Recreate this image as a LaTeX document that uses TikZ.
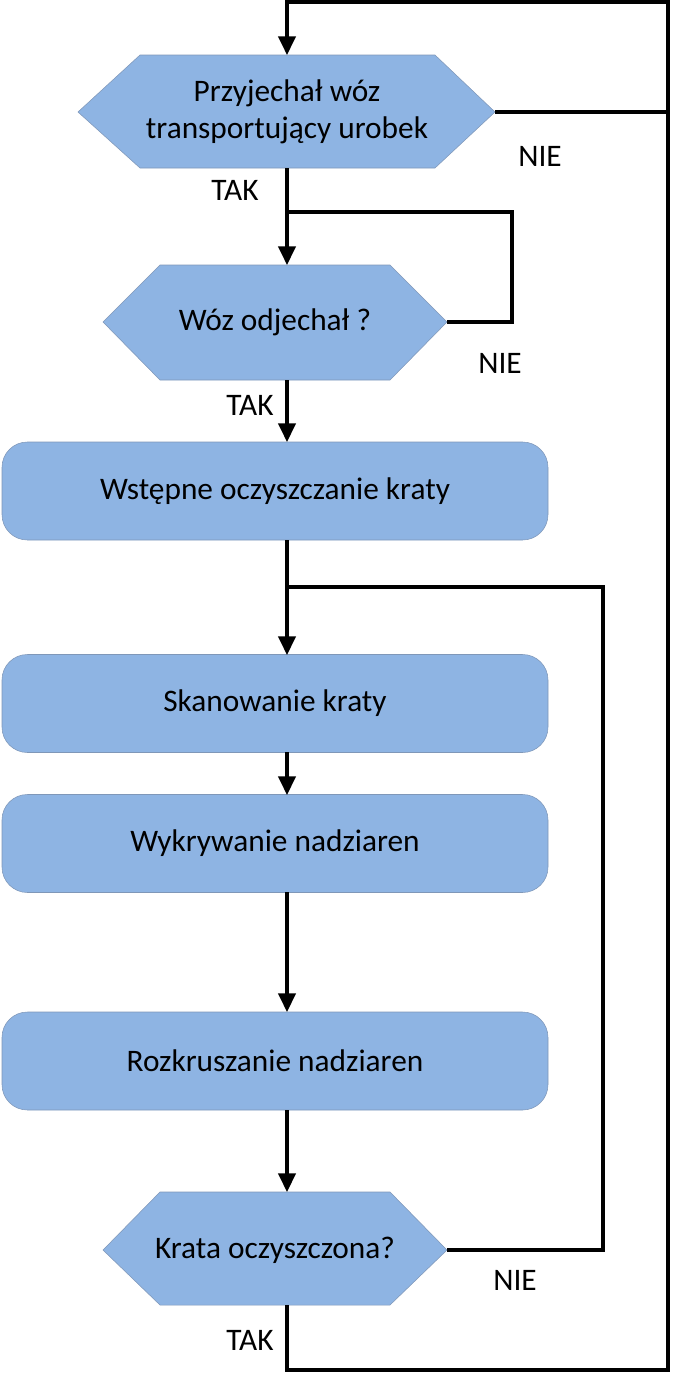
\documentclass[tikz,border=0pt]{standalone}
\usepackage{fontspec}
\setmainfont{Carlito}
\usetikzlibrary{arrows.meta,positioning}

\tikzset{
  box/.style={draw=boxline, fill=decfill, rounded corners=19pt,
    minimum width=409.5pt, minimum height=73.5pt, font=\fontsize{23.5}{28}\selectfont},
  hexfill/.style={draw=boxline, fill=decfill},
  lbl/.style={font=\fontsize{23.5}{28}\selectfont, align=center},
  flow/.style={line width=2.6pt, -{Triangle[length=14pt,width=13pt]}},
  flowline/.style={line width=2.6pt}
}
\definecolor{decfill}{HTML}{8EB4E3}
\definecolor{boxline}{HTML}{7F97B8}

\begin{document}
\begin{tikzpicture}[x=0.75pt, y=-0.75pt]
    \useasboundingbox (0,0) rectangle (675,1375);

    % decisions
    \filldraw[hexfill] (78,112) -- (140,55) -- (435,55) -- (495,112) -- (435,168) -- (140,168) -- cycle;
    \node[lbl] (arrived) at (287,112) {Przyjechał wóz\\transportujący urobek};
    \filldraw[hexfill] (103,322) -- (160,265) -- (390,265) -- (447,322) -- (390,380) -- (160,380) -- cycle;
    \node[lbl] (left) at (275,322) {Wóz odjechał ?};
    \filldraw[hexfill] (103,1250) -- (160,1192) -- (390,1192) -- (447,1250) -- (390,1305) -- (160,1305) -- cycle;
    \node[lbl] (clean) at (275,1250) {Krata oczyszczona?};

    % process steps
    \node[box] (pre) at (275,491) {Wstępne oczyszczanie kraty};
    \node[box] (scan) at (275,703.5) {Skanowanie kraty};
    \node[box] (detect) at (275,843.5) {Wykrywanie nadziaren};
    \node[box] (crush) at (275,1061) {Rozkruszanie nadziaren};

    % connection points
    \coordinate (a1) at (287,55);
    \coordinate (a2) at (287,168);
    \coordinate (a1r) at (495,112);
    \coordinate (b1) at (287,265);
    \coordinate (b2) at (287,380);
    \coordinate (b1r) at (447,322);
    \coordinate (c1) at (287,442);
    \coordinate (c2) at (287,540);
    \coordinate (d1) at (287,655);
    \coordinate (d2) at (287,752);
    \coordinate (e1) at (287,795);
    \coordinate (e2) at (287,892);
    \coordinate (f1) at (287,1012);
    \coordinate (f2) at (287,1110);
    \coordinate (g1) at (287,1192);
    \coordinate (g2) at (287,1305);
    \coordinate (g1r) at (447,1250);

    % main flow
    \draw[flow] (a2) -- (b1);
    \draw[flow] (b2) -- (c1);
    \draw[flow] (c2) -- (d1);
    \draw[flow] (d2) -- (e1);
    \draw[flow] (e2) -- (f1);
    \draw[flow] (f2) -- (g1);

    % loops
    \draw[flowline] (b1r) -- (512,322) -- (512,212) -- (287,212);
    \draw[flowline] (g1r) -- (603,1250) -- (603,587) -- (287,587);
    \draw[flowline] (a1r) -- (668,112);
    \draw[flow] (g2) -- (287,1370) -- (668,1370) -- (668,2) -- (287,2) -- (a1);

    % labels
    \node[lbl] (n1) at (540,156) {NIE};
    \node[lbl] (t1) at (235,190) {TAK};
    \node[lbl] (n2) at (500,363) {NIE};
    \node[lbl] (t2) at (250,405) {TAK};
    \node[lbl] (n3) at (515,1280) {NIE};
    \node[lbl] (t3) at (250,1340) {TAK};
\end{tikzpicture}
\end{document}
